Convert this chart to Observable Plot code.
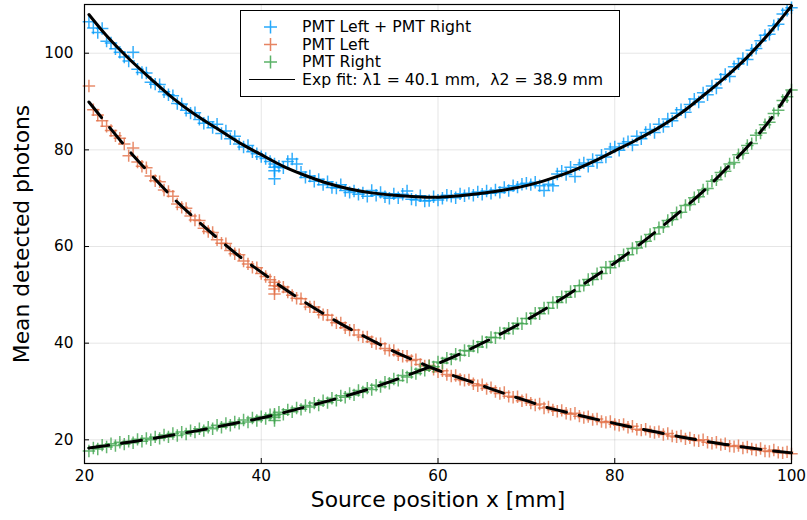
<!DOCTYPE html>
<html><head><meta charset="utf-8">
<script src="https://cdn.jsdelivr.net/npm/d3@7"></script>
<script src="https://cdn.jsdelivr.net/npm/@observablehq/plot@0.6"></script>
<style>
body{margin:0;background:#fff;}
#chart svg{font-family:"DejaVu Sans",sans-serif;}
</style>
</head><body><div id="chart"></div>
<script>
// Source positions (mm); 41.5 measured several times
const xPos = [20.5,21,21.5,22,22.5,23,23.5,24,24.5,25,25.5,26,26.5,27,27.5,28,28.5,29,29.5,30,
30.5,31,31.5,32,32.5,33,33.5,34,34.5,35,35.5,36,36.5,37,37.5,38,38.5,39,39.5,40,
40.5,41,41.5,41.5,41.5,41.5,42,42.5,43,43.5,44,44.5,45,45.5,46,46.5,47,47.5,48,48.5,49,49.5,50,
50.5,51,51.5,52,52.5,53,53.5,54,54.5,55,55.5,56,56.5,57,57.5,58,58.5,59,59.5,60,
60.5,61,61.5,62,62.5,63,63.5,64,64.5,65,65.5,66,66.5,67,67.5,68,68.5,69,69.5,70,
70.5,71,71.5,72,72.5,73,73.5,74,74.5,75,75.5,76,76.5,77,77.5,78,78.5,79,79.5,80,
80.5,81,81.5,82,82.5,83,83.5,84,84.5,85,85.5,86,86.5,87,87.5,88,88.5,89,89.5,90,
90.5,91,91.5,92,92.5,93,93.5,94,94.5,95,95.5,96,96.5,97,97.5,98,98.5,99,99.5,100];

const pmtLeft = [93.2,88.3,87.2,86.0,84.9,84.0,82.9,82.4,81.2,78.8,80.4,77.5,76.6,76.3,74.6,73.6,73.4,71.7,71.4,70.4,
68.8,68.1,67.9,66.3,65.5,65.4,63.8,63.1,62.9,61.4,60.7,60.6,59.2,58.5,58.3,57.0,56.4,55.7,55.6,54.4,
53.8,53.1,52.6,51.9,51.2,50.2,51.8,51.6,50.6,49.9,49.3,49.2,48.1,47.5,47.5,46.4,45.9,45.8,44.8,44.2,44.2,43.2,42.7,
42.7,41.7,41.3,41.3,40.3,39.9,39.9,38.9,38.5,38.5,37.6,37.3,37.3,36.4,36.6,35.6,35.3,35.4,34.6,34.1,
34.3,33.5,33.2,33.3,32.5,32.3,32.4,31.6,31.2,31.4,30.6,30.8,30.0,29.6,29.8,29.0,28.8,28.9,28.1,28.3,
27.6,27.2,27.4,26.6,26.8,26.2,25.9,26.1,25.5,25.3,25.5,24.9,24.6,24.8,24.2,24.3,23.8,23.6,23.8,23.2,
23.0,23.2,22.6,22.8,22.2,22.0,22.2,21.7,21.5,21.7,21.1,21.3,20.8,20.6,20.8,20.2,20.4,19.9,19.8,20.0,
19.5,19.3,19.5,19.0,19.2,18.7,18.6,18.8,18.3,18.5,18.1,17.9,18.2,17.7,17.6,17.9,17.4,17.3,17.5,17.1];

const pmtRight = [17.7,18.3,18.1,18.9,18.5,19.2,18.8,19.5,19.1,19.7,19.4,20.1,19.7,20.3,20.0,20.6,20.3,21.0,20.6,21.3,
20.9,21.6,21.2,21.9,21.6,22.3,21.9,22.6,22.3,23.0,22.6,23.4,23.0,23.7,23.4,24.1,23.7,24.5,24.0,24.8,
24.4,25.2,25.0,24.6,24.0,25.3,25.7,25.3,26.2,25.8,26.6,26.3,27.1,26.8,27.6,27.2,28.1,27.7,28.6,28.2,29.1,28.8,29.6,
29.3,30.2,29.9,30.7,30.4,31.3,31.0,31.9,31.7,32.6,32.3,33.3,33.0,33.9,33.7,34.6,34.4,35.3,35.1,36.1,
35.9,36.9,36.7,37.7,37.5,38.5,38.4,39.4,39.2,40.3,40.2,41.2,41.1,42.1,42.0,43.1,43.0,44.1,44.0,45.1,
45.1,46.2,46.1,47.3,47.2,48.4,48.4,49.6,49.5,50.7,50.7,51.9,52.0,53.2,53.2,54.4,54.4,55.7,55.6,56.9,
57.0,58.3,58.3,59.6,59.7,61.0,61.1,62.5,62.6,63.9,64.1,65.4,65.6,67.0,67.1,68.5,68.7,70.1,70.3,71.7,
72.0,73.5,73.8,75.3,75.6,77.1,77.4,79.0,79.3,80.9,81.3,83.0,83.5,85.2,85.7,87.5,88.2,90.2,91.0,92.4];

const pmtSum = [106.5,105.2,104.3,105.1,102.5,102.1,100.9,100.2,99.2,98.4,100.2,96.7,96.0,95.9,94.0,93.6,93.5,92.0,91.4,91.2,
89.6,89.5,88.2,87.6,87.7,86.3,85.5,85.8,84.6,85.3,83.4,83.9,82.3,82.8,81.2,80.6,80.9,79.6,79.2,78.6,
78.2,77.6,77.1,76.4,75.7,74.0,76.6,76.3,77.6,78.1,77.1,75.4,74.3,74.6,73.5,73.9,72.8,73.4,72.2,72.1,72.8,71.6,71.2,
71.5,70.8,71.1,70.4,71.6,70.6,71.2,70.3,70.0,70.9,70.1,70.8,71.5,69.8,69.6,70.5,69.4,69.5,70.3,69.6,
70.0,70.6,70.4,70.1,70.9,70.5,71.0,70.6,71.3,70.8,71.5,71.0,71.7,71.2,72.2,71.6,72.6,72.3,72.9,73.1,
72.8,73.3,72.6,71.6,72.9,72.6,75.0,75.6,74.9,76.4,74.5,76.9,77.3,76.6,78.0,77.4,78.9,78.5,80.2,80.6,
79.9,81.3,81.7,81.0,82.8,82.3,83.6,84.2,83.6,85.3,84.8,86.4,86.0,87.6,88.3,87.8,89.4,90.5,89.9,91.8,
91.4,93.2,92.8,94.6,95.6,95.2,97.2,97.8,98.9,98.7,100.6,101.0,102.6,103.7,103.9,105.7,106.0,108.1,108.9,109.4];

// Fitted curves
const fitX = [20.5,22.5,25,27.5,30,32.5,35,37.5,40,42.5,45,47.5,50,52.5,55,57.5,60,62.5,65,67.5,70,72.5,75,77.5,80,82.5,85,87.5,90,92.5,95,97.5,100];
const fitLeft = [89.9,85.4,79.9,74.9,70.1,65.8,61.8,58.0,54.7,51.4,48.4,45.6,43.0,40.6,38.3,36.3,34.4,32.8,31.2,29.6,28.1,26.6,25.5,24.4,23.4,22.4,21.5,20.6,19.8,19.05,18.4,17.8,17.3];
const fitRight = [18.3,18.8,19.5,20.2,21.0,21.8,22.7,23.6,24.5,25.6,26.8,28.0,29.3,30.7,32.3,34.0,35.8,37.8,40.0,42.3,44.8,47.5,50.4,53.5,56.6,60.0,63.6,67.4,71.4,75.9,80.6,86.0,92.7];
const fitSum = [108.0,103.6,98.9,94.7,90.7,87.3,84.4,81.5,79.0,76.6,74.7,73.1,71.9,71.1,70.6,70.3,70.2,70.5,71.0,71.7,72.6,73.9,75.5,77.5,79.8,82.1,84.6,87.6,91.2,95.0,99.2,104.2,109.8];

const seriesNames = ["PMT Left + PMT Right","PMT Left","PMT Right"];
const seriesColors = ["#009AFA","#E26F46","#3EA44E"];
const fitLabel = "Exp fit: λ1 = 40.1 mm,  λ2 = 38.9 mm";
const xTicks = [20,40,60,80,100];
const yTicks = [20,40,60,80,100];

const pts = xPos.map((x,i)=>({x, L: pmtLeft[i], R: pmtRight[i], S: pmtSum[i]}));
const fit = fitX.map((x,i)=>({x, L: fitLeft[i], R: fitRight[i], S: fitSum[i]}));

const cross = {draw(ctx, size){const r=Math.sqrt(size/Math.PI); ctx.moveTo(-r,0); ctx.lineTo(r,0); ctx.moveTo(0,-r); ctx.lineTo(0,r);}};
const dotOpts = (key, c) => ({x:"x", y:key, symbol: cross, r: 6.2, stroke: c, fill: "none", strokeWidth: 1.5, strokeOpacity: 0.8});

const chart = Plot.plot({
  width: 807, height: 520,
  marginLeft: 84, marginRight: 16, marginTop: 4, marginBottom: 57,
  x: {domain: [20,100]},
  y: {domain: [15.1,110.08]},
  style: {fontFamily: "DejaVu Sans", fontSize: "15px", color: "black", background: "white"},
  marks: [
    Plot.gridX(xTicks, {stroke: "#000", strokeOpacity: 0.1, strokeWidth: 1}),
    Plot.gridY(yTicks, {stroke: "#000", strokeOpacity: 0.1, strokeWidth: 1}),
    Plot.dot(pts, dotOpts("S", seriesColors[0])),
    Plot.dot(pts, dotOpts("L", seriesColors[1])),
    Plot.dot(pts, dotOpts("R", seriesColors[2])),
    Plot.line(fit, {x:"x", y:"S", stroke:"black", strokeWidth: 3, curve: "catmull-rom"}),
    Plot.line(fit, {x:"x", y:"L", stroke:"black", strokeWidth: 3, strokeDasharray: "20,13", curve: "catmull-rom"}),
    Plot.line(fit, {x:"x", y:"R", stroke:"black", strokeWidth: 3, strokeDasharray: "20,13", curve: "catmull-rom"}),
    Plot.axisX({ticks: xTicks, tickSize: -5, tickPadding: 12, label: null, fontSize: 15.3}),
    Plot.axisY({ticks: yTicks, tickSize: -5, tickPadding: 16, label: null, fontSize: 15.3}),
    Plot.frame({stroke: "black", strokeWidth: 1.2}),
    Plot.text(["Source position x [mm]"], {frameAnchor: "bottom", dy: 43, fontSize: 21.8}),
    Plot.text(["Mean detected photons"], {frameAnchor: "left", dx: -62, rotate: -90, textAnchor: "middle", fontSize: 21.8})
  ]
});
document.getElementById("chart").appendChild(chart);

// Legend box
const svg = d3.select(chart);
const lg = svg.append("g").attr("font-family","DejaVu Sans").attr("font-size",15.7).attr("text-anchor","start").attr("fill","black");
lg.append("rect").attr("x",240.5).attr("y",10.5).attr("width",379).attr("height",86).attr("fill","white").attr("stroke","black").attr("stroke-width",1);
const rowY = [27, 44.5, 62, 79.5];
seriesNames.forEach((n,i)=>{
  const cy = rowY[i];
  lg.append("path").attr("d",`M264,${cy}h13M270.5,${cy-6.5}v13`).attr("stroke",seriesColors[i]).attr("stroke-width",1.5).attr("stroke-opacity",0.85);
  lg.append("text").attr("x",302).attr("y",cy).attr("dy","0.35em").text(n);
});
lg.append("line").attr("x1",249).attr("x2",295).attr("y1",rowY[3]).attr("y2",rowY[3]).attr("stroke","black").attr("stroke-width",1);
lg.append("text").attr("x",302).attr("y",rowY[3]).attr("dy","0.35em").style("white-space","pre").text(fitLabel);
</script></body></html>
